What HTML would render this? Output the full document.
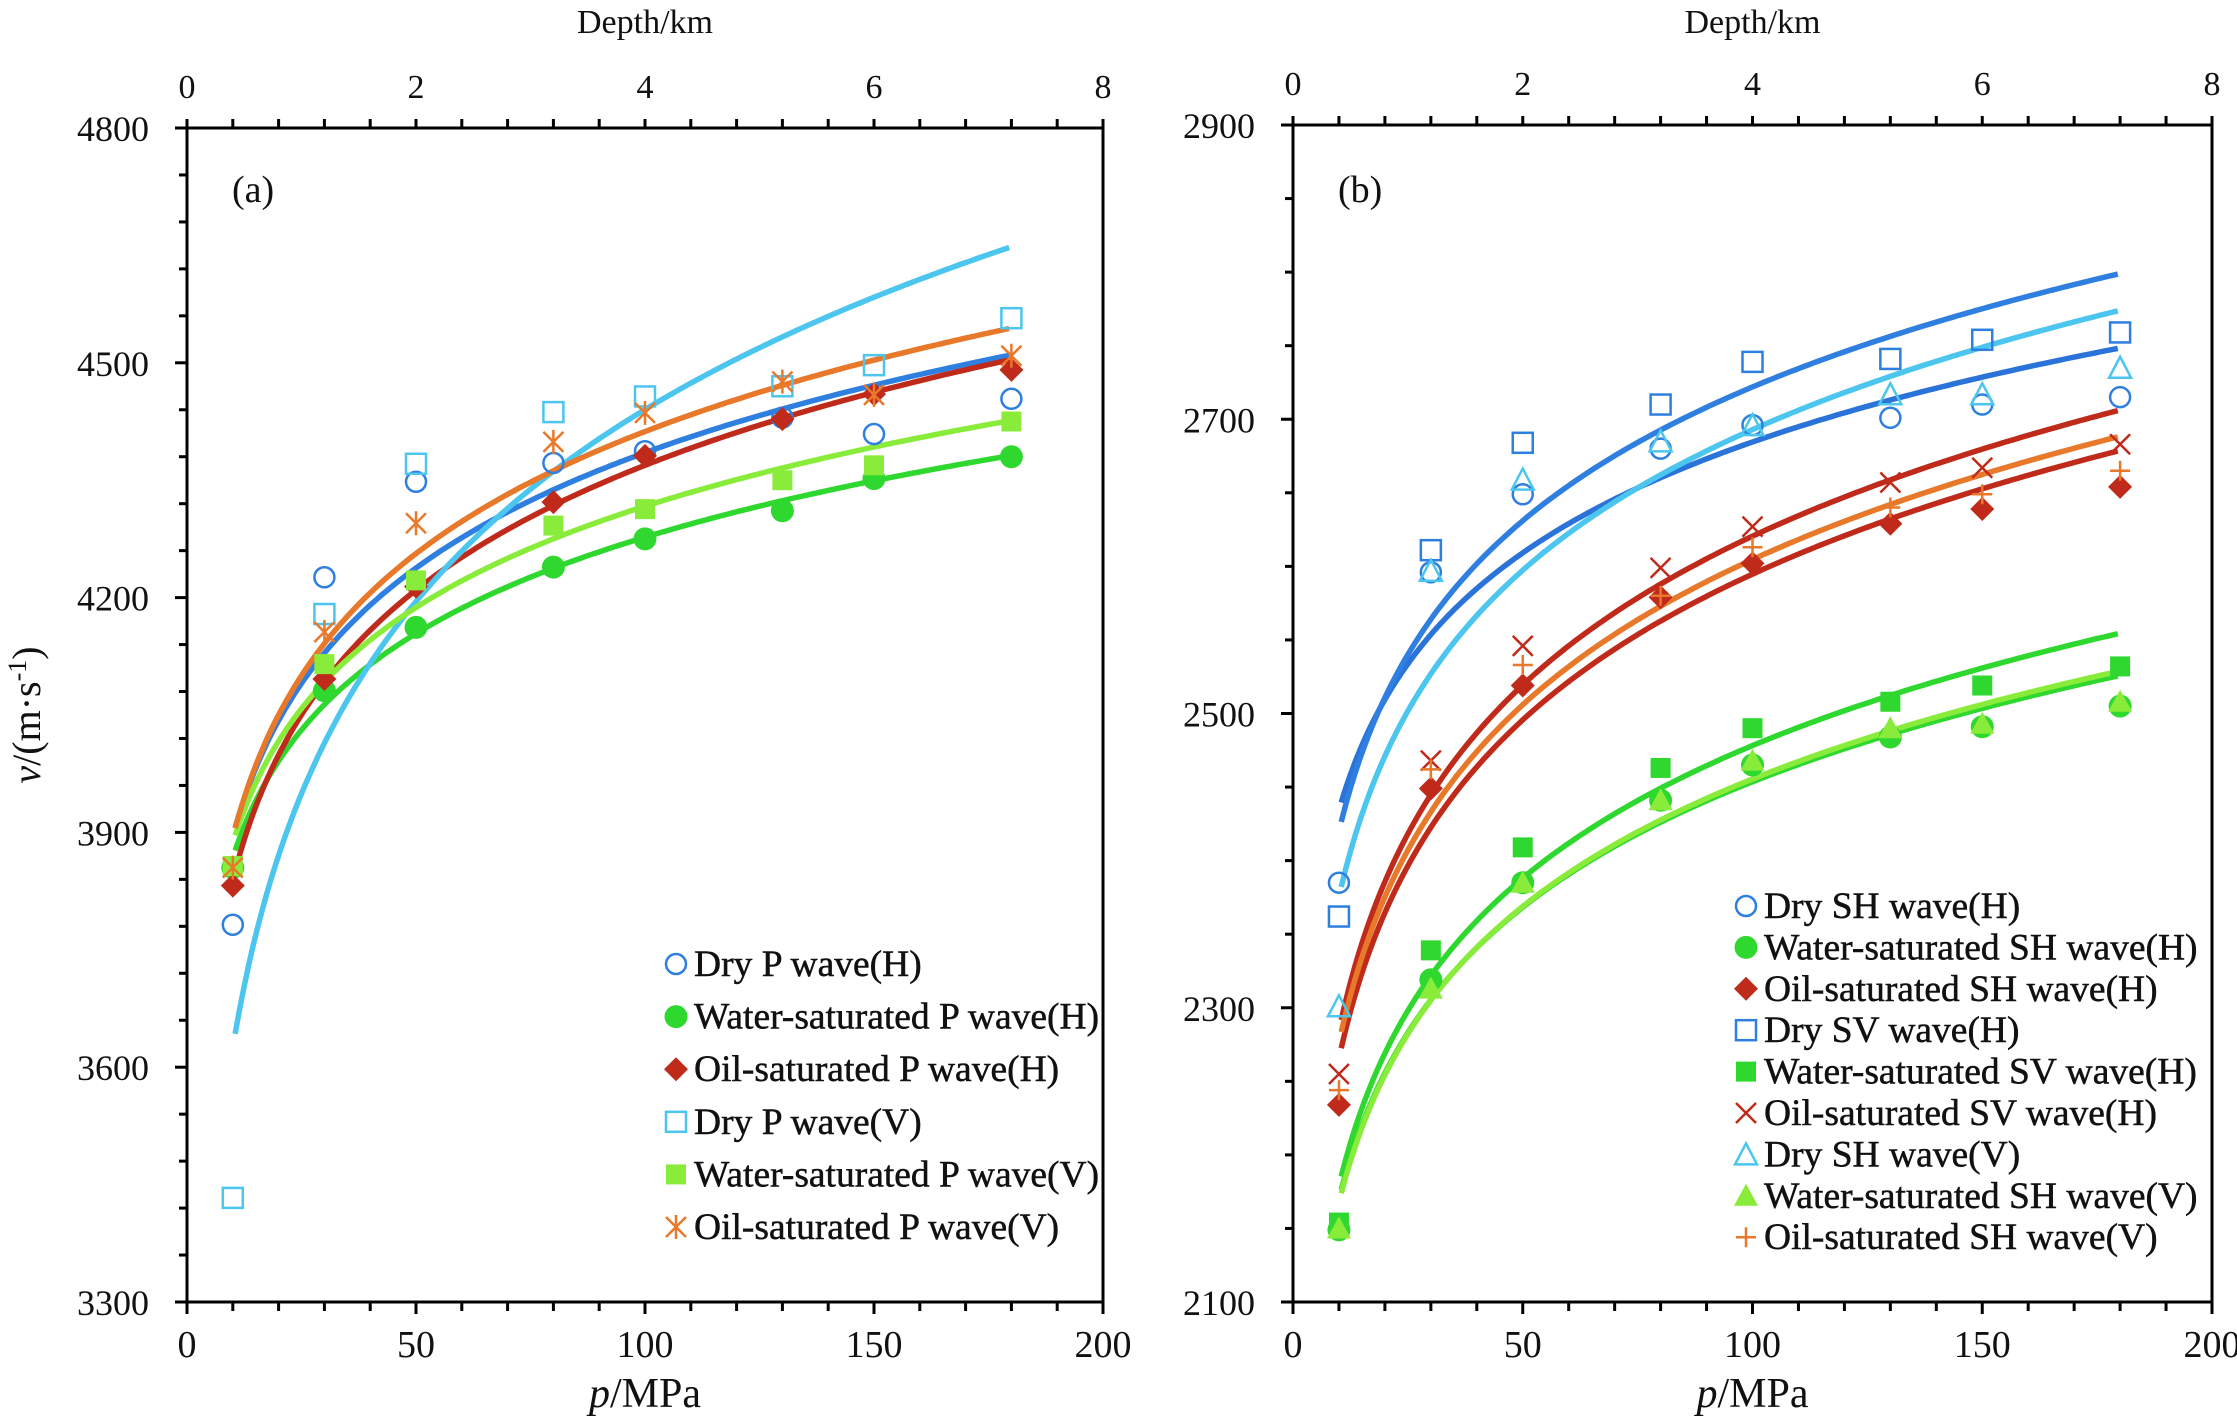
<!DOCTYPE html>
<html><head><meta charset="utf-8"><style>
html,body{margin:0;padding:0;background:#fff}
svg{display:block}
text{font-family:"Liberation Serif",serif;fill:#111}
</style></head><body>
<svg id="chart" width="2237" height="1418" viewBox="0 0 2237 1418" xmlns="http://www.w3.org/2000/svg"></svg>
<script>
const pressures=[10,30,50,80,100,130,150,180];
// Panel (a) series
const aDryPH=[3782,4226,4348,4372,4387,4430,4409,4454];
const aWaterPH=[3855,4081,4162,4239,4275,4311,4352,4380];
const aOilPH=[3832,4096,4214,4322,4381,4428,4460,4491];
const aDryPV=[3433,4179,4371,4437,4457,4470,4497,4557];
const aWaterPV=[3857,4115,4222,4292,4313,4350,4369,4425];
const aOilPV=[3855,4156,4295,4399,4436,4476,4459,4509];
const aLabels=["Dry P wave(H)","Water-saturated P wave(H)","Oil-saturated P wave(H)","Dry P wave(V)","Water-saturated P wave(V)","Oil-saturated P wave(V)"];
const aYTicks=[3300,3600,3900,4200,4500,4800];
// Panel (b) series
const bDrySHH=[2385,2596,2649,2680,2696,2701,2710,2715];
const bWaterSHH=[2149,2319,2385,2441,2465,2484,2491,2505];
const bOilSHH=[2234,2449,2519,2579,2602,2629,2639,2654];
const bDrySVH=[2362,2611,2684,2710,2739,2741,2754,2759];
const bWaterSVH=[2154,2339,2409,2463,2490,2508,2519,2532];
const bOilSVH=[2255,2468,2546,2599,2627,2657,2667,2683];
const bDrySHV=[2301,2597,2659,2685,2696,2717,2717,2735];
const bWaterSHV=[2150,2313,2385,2441,2468,2490,2493,2508];
const bOilSHV=[2244,2462,2533,2580,2613,2640,2649,2665];
const bLabels=["Dry SH wave(H)","Water-saturated SH wave(H)","Oil-saturated SH wave(H)","Dry SV wave(H)","Water-saturated SV wave(H)","Oil-saturated SV wave(H)","Dry SH wave(V)","Water-saturated SH wave(V)","Oil-saturated SH wave(V)"];
const bYTicks=[2100,2300,2500,2700,2900];
const xTicks=[0,50,100,150,200];
const depthTicks=[0,2,4,6,8];

const NS="http://www.w3.org/2000/svg";
const svg=document.getElementById('chart');
function mk(tag,attrs,parent){const e=document.createElementNS(NS,tag);for(const k in attrs)e.setAttribute(k,attrs[k]);(parent||svg).appendChild(e);return e;}

function fit(xs,ys){const n=xs.length;let sx=0,sy=0,sxx=0,sxy=0;for(let i=0;i<n;i++){const l=Math.log(xs[i]);sx+=l;sy+=ys[i];sxx+=l*l;sxy+=l*ys[i];}const b=(n*sxy-sx*sy)/(n*sxx-sx*sx);return {a:(sy-b*sx)/n,b};}

function marker(g,type,cx,cy,color,s){
  let e;
  if(type==='circle'){e=mk('circle',{cx,cy,r:s,fill:'none',stroke:color,'stroke-width':2.5},g);}
  else if(type==='dot'){e=mk('circle',{cx,cy,r:s+1.5,fill:color},g);}
  else if(type==='diamond'){e=mk('polygon',{points:`${cx},${cy-s-2} ${cx+s+2},${cy} ${cx},${cy+s+2} ${cx-s-2},${cy}`,fill:color},g);}
  else if(type==='square'){e=mk('rect',{x:cx-s,y:cy-s,width:2*s,height:2*s,fill:'none',stroke:color,'stroke-width':2.5},g);}
  else if(type==='fsquare'){e=mk('rect',{x:cx-s,y:cy-s,width:2*s,height:2*s,fill:color},g);}
  else if(type==='star'){e=mk('path',{d:`M${cx-s},${cy-s}L${cx+s},${cy+s}M${cx-s},${cy+s}L${cx+s},${cy-s}M${cx},${cy-s-2}L${cx},${cy+s+2}`,stroke:color,'stroke-width':2.5,fill:'none'},g);}
  else if(type==='x'){e=mk('path',{d:`M${cx-s},${cy-s}L${cx+s},${cy+s}M${cx-s},${cy+s}L${cx+s},${cy-s}`,stroke:color,'stroke-width':2.5,fill:'none'},g);}
  else if(type==='tri'){e=mk('polygon',{points:`${cx},${cy-s-1} ${cx+s+1},${cy+s} ${cx-s-1},${cy+s}`,fill:'none',stroke:color,'stroke-width':2.5},g);}
  else if(type==='ftri'){e=mk('polygon',{points:`${cx},${cy-s-2} ${cx+s+2},${cy+s} ${cx-s-2},${cy+s}`,fill:color},g);}
  else if(type==='plus'){e=mk('path',{d:`M${cx-s},${cy}L${cx+s},${cy}M${cx},${cy-s}L${cx},${cy+s}`,stroke:color,'stroke-width':2.5,fill:'none'},g);}
  return e;
}

function panel(o){
  const g=mk('g',{});
  
  
  const X=p=>o.L+(p-0)/200*(o.R-o.L);
  const Y=v=>o.B-(v-o.ymin)/(o.ymax-o.ymin)*(o.B-o.T);
  const fr=mk('rect',{x:o.L,y:o.T,width:o.R-o.L,height:o.B-o.T,fill:'none',stroke:'#000','stroke-width':3},g);
  
  for(let p=0;p<=200;p+=10){const maj=p%50===0;mk('line',{x1:X(p),x2:X(p),y1:o.B,y2:o.B+(maj?12:9),stroke:'#000','stroke-width':3},g);}
  xTicks.forEach(t=>{const e=mk('text',{x:X(t),y:o.B+55,'text-anchor':'middle','font-size':38},g);e.textContent=t;
    });
  for(let d=0;d<=8.001;d+=0.4){const xx=o.L+d/8*(o.R-o.L);mk('line',{x1:xx,x2:xx,y1:o.T,y2:o.T-9,stroke:'#000','stroke-width':3},g);}
  depthTicks.forEach(t=>{const e=mk('text',{x:o.L+t/8*(o.R-o.L),y:o.T-30,'text-anchor':'middle','font-size':34},g);e.textContent=t;
    });
  const dt=mk('text',{x:(o.L+o.R)/2,y:33,'text-anchor':'middle','font-size':34},g);dt.textContent='Depth/km';
  
  for(let v=o.ymin;v<=o.ymax+0.1;v+=o.minor){const maj=(v-o.ymin)%o.major===0;mk('line',{x1:o.L,x2:o.L-(maj?12:8),y1:Y(v),y2:Y(v),stroke:'#000','stroke-width':3},g);}
  o.yTicks.forEach(t=>{const e=mk('text',{x:o.L-38,y:Y(t)+13,'text-anchor':'end','font-size':36},g);e.textContent=t;
    });
  const xt=mk('text',{x:(o.L+o.R)/2,y:1407,'text-anchor':'middle','font-size':42},g);
  xt.innerHTML='<tspan font-style="italic">p</tspan>/MPa';
  
  const pl=mk('text',{x:o.L+45,y:202,'font-size':38},g);pl.textContent=o.tag;
  
  o.series.forEach(s=>{const f=fit(pressures,s.data);let d='';for(let p=10.5;p<=180.01;p+=1){d+=(d?'L':'M')+X(p).toFixed(1)+','+Y(f.a+f.b*Math.log(p)).toFixed(1);}
    const c=mk('path',{d,fill:'none',stroke:s.line,'stroke-width':5.5},g);
    });
  o.series.forEach(s=>{s.data.forEach((v,i)=>{const m=marker(g,s.type,X(pressures[i]),Y(v),s.color,10);
    });});
  o.series.forEach((s,i)=>{const y=o.legY+i*o.legDy;const m=marker(g,s.type,o.legX,y,s.color,10);
    
    const t=mk('text',{x:o.legX+18,y:y+12,'font-size':o.legFs,stroke:'#111','stroke-width':0.5},g);t.textContent=o.labels[i];
    });
}

const C={blue:'#2e7fe0',dblue:'#2a73d8',lblue:'#4cc6ee',green:'#2fd82f',lgreen:'#8aec3a',red:'#c02a1a',orange:'#e8782a'};
panel({name:'panel-a',tag:'(a)',L:187,R:1103,T:128,B:1302,ymin:3300,ymax:4800,minor:60,major:300,yTicks:aYTicks,labels:aLabels,legX:676,legY:964,legDy:52.6,legFs:37.5,
 series:[{data:aDryPH,type:'circle',color:C.blue,line:C.blue},{data:aWaterPH,type:'dot',color:C.green,line:C.green},{data:aOilPH,type:'diamond',color:C.red,line:C.red},
 {data:aDryPV,type:'square',color:C.lblue,line:C.lblue},{data:aWaterPV,type:'fsquare',color:C.lgreen,line:C.lgreen},{data:aOilPV,type:'star',color:C.orange,line:C.orange}]});
panel({name:'panel-b',tag:'(b)',L:1293,R:2212,T:125,B:1302,ymin:2100,ymax:2900,minor:50,major:200,yTicks:bYTicks,labels:bLabels,legX:1746,legY:906,legDy:41.4,legFs:37.5,
 series:[{data:bDrySHH,type:'circle',color:C.blue,line:C.dblue},{data:bWaterSHH,type:'dot',color:C.green,line:C.green},{data:bOilSHH,type:'diamond',color:C.red,line:C.red},
 {data:bDrySVH,type:'square',color:C.blue,line:C.blue},{data:bWaterSVH,type:'fsquare',color:C.green,line:C.green},{data:bOilSVH,type:'x',color:C.red,line:C.red},
 {data:bDrySHV,type:'tri',color:C.lblue,line:C.lblue},{data:bWaterSHV,type:'ftri',color:C.lgreen,line:C.lgreen},{data:bOilSHV,type:'plus',color:C.orange,line:C.orange}]});
const yl=mk('text',{x:0,y:0,'text-anchor':'middle','font-size':40,transform:'translate(40,715) rotate(-90)'});
yl.innerHTML='<tspan font-style="italic">v</tspan>/(m·s<tspan dy="-14" font-size="26">-1</tspan><tspan dy="14">)</tspan>';


</script>
</body></html>
